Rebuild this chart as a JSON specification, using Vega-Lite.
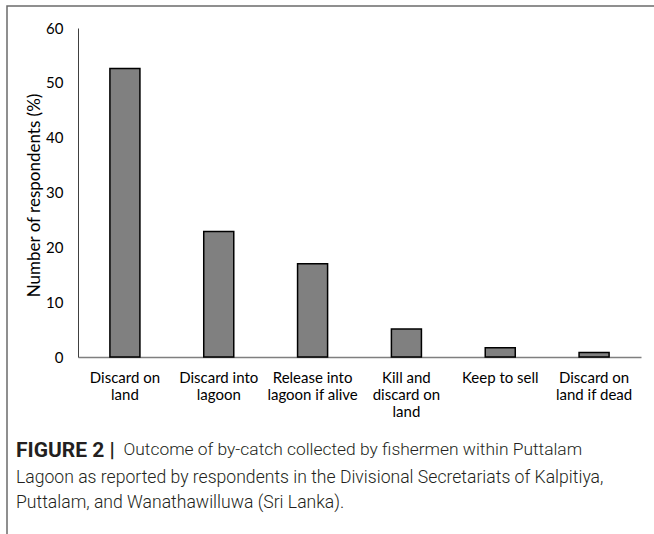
{
  "$schema": "https://vega.github.io/schema/vega-lite/v6.json",
  "autosize": "none",
  "padding": {"left": 7, "top": 6, "right": -3, "bottom": -3},
  "width": 650,
  "height": 531,
  "background": "white",
  "title": {
    "text": "FIGURE 2 |",
    "subtitle": ["Lagoon as reported by respondents in the Divisional Secretariats of Kalpitiya,", "Puttalam, and Wanathawilluwa (Sri Lanka)."],
    "orient": "top",
    "anchor": "start",
    "frame": "group",
    "dx": 9,
    "offset": -506,
    "font": "Roboto",
    "fontSize": 21,
    "fontWeight": "bold",
    "color": "#231f20",
    "subtitleFont": "Roboto",
    "subtitleFontSize": 17.6,
    "subtitleFontWeight": 300,
    "subtitleColor": "#231f20",
    "subtitleLineHeight": 25,
    "subtitlePadding": 8
  },
  "data": {
    "values": [
      {"outcome": "Discard on|land", "percent": 52.6},
      {"outcome": "Discard into|lagoon", "percent": 22.9},
      {"outcome": "Release into|lagoon if alive", "percent": 17.0},
      {"outcome": "Kill and|discard on|land", "percent": 5.1},
      {"outcome": "Keep to sell", "percent": 1.7},
      {"outcome": "Discard on|land if dead", "percent": 0.8}
    ]
  },
  "mark": {"type": "bar", "fill": "#808080", "stroke": "#000000", "strokeWidth": 1.5},
  "encoding": {
    "x": {
      "field": "outcome",
      "type": "nominal",
      "sort": null,
      "scale": {"range": [71, 634], "paddingInner": 0.68, "paddingOuter": 0.34},
      "axis": {
        "orient": "bottom",
        "offset": -180,
        "labelAngle": 0,
        "labelExpr": "split(datum.label, '|')",
        "labelFont": "Lato",
        "labelFontSize": 15,
        "labelLineHeight": 17,
        "labelColor": "#000000",
        "labelBaseline": "top",
        "labelPadding": 13,
        "labelLimit": 200,
        "ticks": false,
        "tickSize": 0,
        "domainColor": "#7f7f7f",
        "domainWidth": 1.5,
        "title": "Outcome of by-catch collected by fishermen within Puttalam",
        "titleFont": "Roboto",
        "titleFontSize": 17.4,
        "titleFontWeight": 300,
        "titleColor": "#231f20",
        "titleAlign": "left",
        "titleAnchor": "start",
        "titleBaseline": "alphabetic",
        "titleX": 116,
        "titleY": 97
      }
    },
    "y": {
      "field": "percent",
      "type": "quantitative",
      "scale": {"domain": [0, 60], "range": [351, 22], "nice": false, "zero": true},
      "axis": {
        "orient": "left",
        "offset": -71,
        "values": [0, 10, 20, 30, 40, 50, 60],
        "grid": false,
        "ticks": false,
        "tickSize": 0,
        "labelFont": "Lato",
        "labelFontSize": 15,
        "labelColor": "#000000",
        "labelPadding": 15,
        "domainColor": "#404040",
        "domainWidth": 1,
        "title": "Number of respondents (%)",
        "titleFont": "Lato",
        "titleFontSize": 17,
        "titleFontWeight": "normal",
        "titleColor": "#000000",
        "titleAngle": -90,
        "titleAlign": "center",
        "titleBaseline": "middle",
        "titleX": -44,
        "titleY": 189
      }
    }
  },
  "config": {
    "view": {"stroke": "#6b6b6b", "strokeWidth": 1.5}
  }
}
